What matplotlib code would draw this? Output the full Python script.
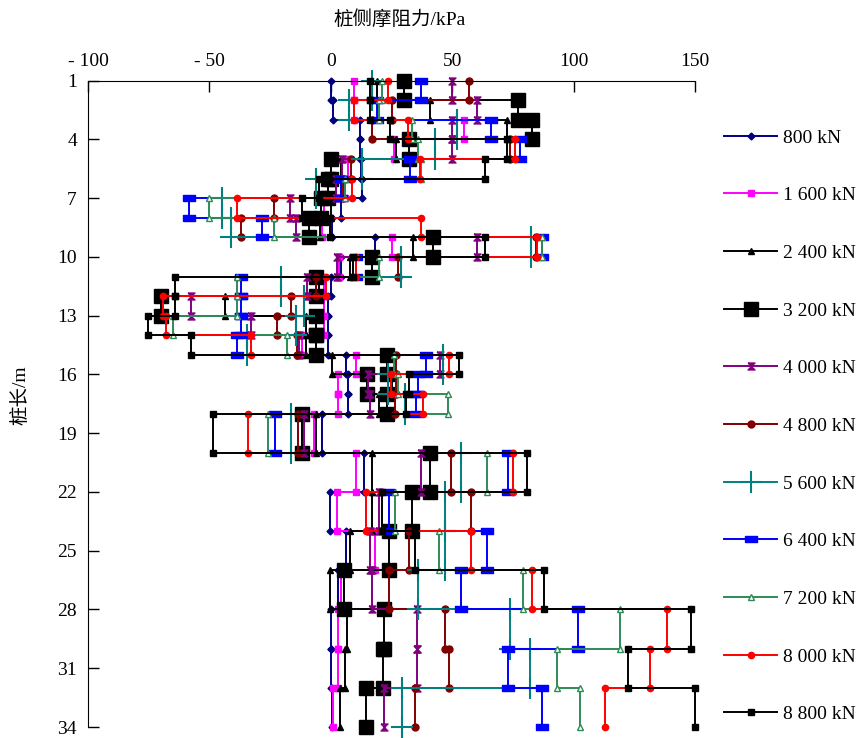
import matplotlib
matplotlib.use("Agg")
import matplotlib.pyplot as plt
from matplotlib.path import Path

# segment boundaries (pile depth, m)
depths = [1, 2, 3, 4, 5, 6, 7, 8, 9, 10, 11, 12, 13, 14, 15, 16, 17, 18,
          20, 22, 24, 26, 28, 30, 32, 34]

loads = ["800 kN", "1 600 kN", "2 400 kN", "3 200 kN", "4 000 kN", "4 800 kN",
         "5 600 kN", "6 400 kN", "7 200 kN", "8 000 kN", "8 800 kN"]

# side friction per segment (kPa), top to bottom
q800 = [0, 1, 12, 12, 12.5, 12.7, 4, 0.5, 18, 4, 0, -1, -1, -1, 6.2, 6.9, 6.9,
        -3.7, 13.8, -0.3, 6.2, 3, 0, 0, 0.5]
q1600 = [9.7, 9.7, 55, 26, 7, 6, -3, -3.5, 25.3, 3.5, -2.8, -2.8, -3, -12, 10.4,
         3, 3, -6.9, 10.4, 2.4, 18, 4, 2.8, 2.8, 0.7]
q2400 = [19, 41, 72.6, 27, 4, 4, 0, -4.4, 34, 8, -5, -43.6, -10.4, -10.4, 0.4,
         25, 20, -6.2, 16.9, 16.9, 7.9, -0.3, 6.6, 6, 3.7]
q3200 = [30, 77, 83, 32, 0, -1, -4, -9, 42, 17, -6, -70, -6, -6, 23, 15, 23,
         -11.8, 41, 33.6, 23.8, 5.5, 22, 21.5, 14.5]
q4000 = [50, 60, 50, 50, 4.7, 2, -17, -14.5, 60, 2.5, -10, -57.7, -33, -13, 45,
         15.2, 16, -11, 37, 20, 16.3, 17, 35.4, 35.5, 22.1]
q4800 = [57, 25, 17, 74, 8.5, 5, -23.5, -37, 84.6, 27.7, -6, -16.6, -22, -14, 27,
         27, 26.3, -13.6, 49.5, 57.8, 32.1, 23.8, 47, 48.7, 34.6]
q5600 = [17, 7.6, 52, 43, 13, -6, -45, -41, 82.3, 28.8, -20.5, -11, -14.5, -34.6,
         46, 23.5, 30.4, -16.2, 53.6, 47, 47, 36, 73.6, 82, 29.3]
q6400 = [37, 19, 66, 78, 32.5, 4, -58.4, -28.4, 87, 10.5, -37, -37, -37, -38.7,
         39, 36, 35, -22.8, 73, 23.8, 64.3, 53.6, 101.7, 73, 86.9]
q7200 = [21, 20, 33.6, 36, 37, 6, -50.2, -23.5, 86.9, 20, -38.7, -38.7, -65, -18,
         26, 27.7, 48.4, -26, 64.3, 26.3, 44.5, 79.3, 119.2, 93.3, 102.6]
q8000 = [23.5, 9.7, 31.8, 76, 36.7, 8.6, -38.7, 37, 85, 10.5, -2, -69, -68, -33,
         48.5, 24.6, 37.8, -34.3, 75, 14.5, 57.8, 82.7, 138.3, 131.4, 113.1]
q8800 = [16, 16, 24.5, 72.6, 63.6, -5, -12, -0.4, 63.6, 9, -64.3, -64, -75.4,
         -57.7, 52.8, 32, 31.1, -48.4, 81, 21, 34.6, 87.6, 148.4, 122.4, 150]

series = [q800, q1600, q2400, q3200, q4000, q4800, q5600, q6400, q7200, q8000, q8800]

hourglass = Path([(-1, 1), (1, 1), (-1, -1), (1, -1), (-1, 1)])
wide_rect = Path([(-1.4, -0.8), (1.4, -0.8), (1.4, 0.8), (-1.4, 0.8), (-1.4, -0.8)])

styles = [
    dict(color="#000080", marker="D", ms=3.5),
    dict(color="#ff00ff", marker="s", ms=5),
    dict(color="black", marker="^", ms=4.5),
    dict(color="black", marker="s", ms=10),
    dict(color="#800080", marker=hourglass, ms=5),
    dict(color="#800000", marker="o", ms=5),
    dict(color="#008080", marker="+", ms=16, mew=1.5),
    dict(color="#0000ff", marker=wide_rect, ms=8),
    dict(color="#2e8b57", marker="^", ms=5, mfc="white"),
    dict(color="#ff0000", marker="o", ms=4.5),
    dict(color="black", marker="s", ms=4.5),
]


def step_points(values):
    xs, ys = [], []
    for i, v in enumerate(values):
        xs += [v, v]
        ys += [depths[i], depths[i + 1]]
    return xs, ys


fig = plt.figure(figsize=(8.62, 7.38), dpi=100)
ax = fig.add_axes([0.1021, 0.0149, 0.7042, 0.8758])

handles = []
for vals, label, st in zip(series, loads, styles):
    xs, ys = step_points(vals)
    ln, = ax.plot(xs, ys, lw=1.4, label=label, clip_on=False, **st)
    handles.append(ln)

ax.set_xlim(-100, 150)
ax.set_ylim(34, 1)
ax.xaxis.tick_top()
ax.set_xticks([-100, -50, 0, 50, 100, 150])
ax.set_xticklabels(["- 100", "- 50", "0", "50", "100", "150"])
ax.set_yticks(range(1, 35, 3))
ax.tick_params(axis="both", direction="in", length=8, width=1, labelsize=14, pad=8)
for lab in ax.get_xticklabels() + ax.get_yticklabels():
    lab.set_family("Liberation Serif")
ax.spines["right"].set_visible(False)
ax.spines["bottom"].set_visible(False)

cjk = ["Liberation Serif", "Noto Sans CJK SC"]
fig.text(0.464, 0.974, "桩侧摩阻力/kPa", ha="center", va="center", fontsize=14, family=cjk)
fig.text(0.025, 0.465, "桩长/m", ha="center", va="center", rotation=90, fontsize=14, family=cjk)

fig.legend(handles=handles, loc="upper left", bbox_to_anchor=(724 / 862, 1 - 129 / 738),
           frameon=False, handlelength=2.75, handletextpad=0.3, labelspacing=2.06,
           borderpad=0, borderaxespad=0, prop={"family": "Liberation Serif", "size": 14})

fig.savefig("out.png", dpi=100)
